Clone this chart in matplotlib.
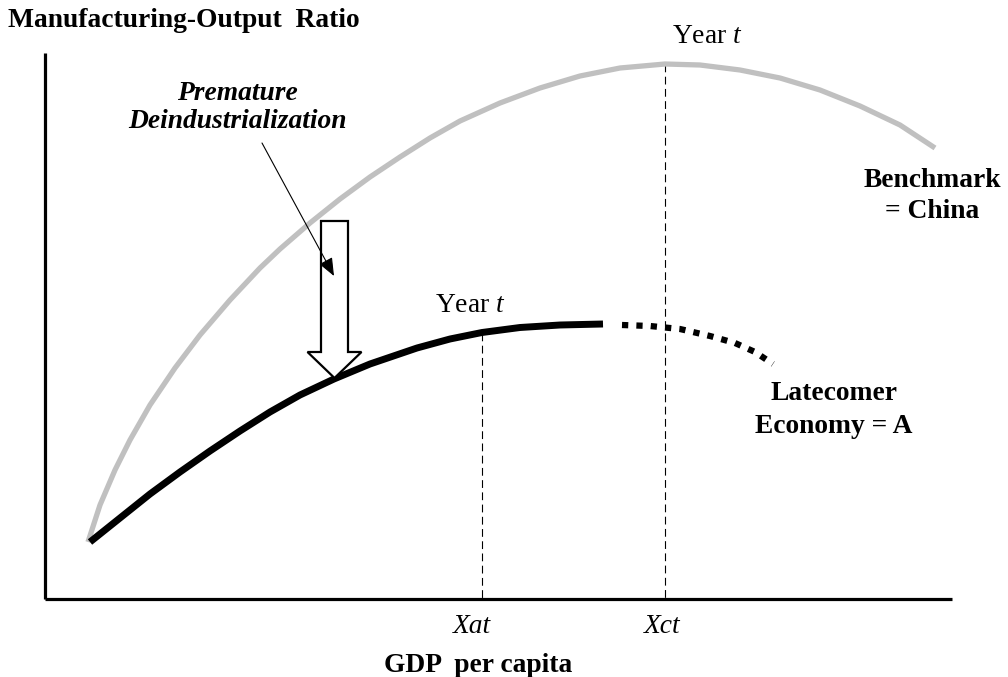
import matplotlib
matplotlib.use("Agg")
import matplotlib.pyplot as plt
from matplotlib.patches import FancyArrow
import numpy as np

# curve points (pixel coords, y grows downward)
china_x = [88, 100, 115, 130, 150, 175, 200, 230, 260, 280, 310, 340, 370, 400,
           430, 460, 500, 540, 580, 620, 665, 700, 740, 780, 820, 860, 900, 935]
china_y = [542, 505, 470, 440, 405, 368, 335, 300, 268, 249, 223, 199, 177, 157,
           138, 121, 103, 88, 76, 68, 64, 65, 70, 78, 90, 106, 125, 148]

latecomer_x = [90, 120, 150, 180, 210, 240, 270, 300, 334, 370, 417, 450, 482, 520, 560, 603]
latecomer_y = [542, 518, 494, 472, 451, 431, 412, 395, 379, 364, 348, 339, 332.5, 327.5, 325, 324]

future_x = [622, 650, 680, 710, 735, 755, 773]
future_y = [325, 326, 329, 336, 343, 352, 364]

x_at = 482
x_ct = 665
axis_origin = (45, 599)
axis_x_end = 952
axis_y_top = 53

plt.rcParams['font.family'] = 'Liberation Serif'
plt.rcParams['mathtext.fontset'] = 'custom'
plt.rcParams['mathtext.rm'] = 'Liberation Serif'
plt.rcParams['mathtext.it'] = 'Liberation Serif:italic'

fig = plt.figure(figsize=(10.08, 6.77), dpi=100)
ax = fig.add_axes([0, 0, 1, 1])
ax.set_xlim(0, 1008)
ax.set_ylim(677, 0)
ax.axis('off')

# axes
ax.plot([axis_origin[0], axis_origin[0]], [axis_y_top, axis_origin[1]], color='black', lw=2.3,
        solid_capstyle='butt')
ax.plot([axis_origin[0], axis_x_end], [axis_origin[1], axis_origin[1]], color='black', lw=2.3,
        solid_capstyle='butt')

# vertical dashed markers up to their curves
top_at = np.interp(x_at, latecomer_x, latecomer_y)
top_ct = np.interp(x_ct, china_x, china_y)
for xv, yt in [(x_at, top_at), (x_ct, top_ct)]:
    ax.plot([xv, xv], [yt, axis_origin[1]], color='black', lw=0.8, dashes=(7, 4))

# curves
ax.plot(china_x, china_y, color='#c0c0c0', lw=3.8, solid_capstyle='butt', solid_joinstyle='round')
ax.plot(latecomer_x, latecomer_y, color='black', lw=5, solid_capstyle='butt', solid_joinstyle='round')
ax.plot(future_x, future_y, color='black', lw=4.5, dashes=(1, 1.3), dash_capstyle='butt')

# hollow block arrow
ax.add_patch(FancyArrow(334.5, 221, 0, 157, width=27, head_width=54, head_length=26,
                        length_includes_head=True, fc='white', ec='black', lw=1.6, zorder=3))

# thin pointer arrow
ax.annotate('', xy=(334, 276), xytext=(262, 143),
            arrowprops=dict(arrowstyle='-|>,head_length=1.1,head_width=0.45', color='black',
                            lw=0.8, shrinkA=0, shrinkB=0), zorder=4)

fs = 19.8
ax.text(8, 27, 'Manufacturing-Output  Ratio', fontsize=fs, fontweight='bold', ha='left', va='baseline')
ax.text(237, 100, 'Premature', fontsize=fs, fontweight='bold', style='italic', ha='center', va='baseline')
ax.text(237, 128, 'Deindustrialization', fontsize=fs, fontweight='bold', style='italic', ha='center', va='baseline')
ax.text(707, 43, r'Year $\it{t}$', fontsize=fs, ha='center', va='baseline')
ax.text(470, 312, r'Year $\it{t}$', fontsize=fs, ha='center', va='baseline')
ax.text(932, 187, 'Benchmark', fontsize=fs, fontweight='bold', ha='center', va='baseline')
ax.text(932, 218, '= China', fontsize=fs, fontweight='bold', ha='center', va='baseline')
ax.text(834, 400, 'Latecomer', fontsize=fs, fontweight='bold', ha='center', va='baseline')
ax.text(834, 433, 'Economy = A', fontsize=fs, fontweight='bold', ha='center', va='baseline')
ax.text(472, 633, 'Xat', fontsize=fs, style='italic', ha='center', va='baseline')
ax.text(662, 633, 'Xct', fontsize=fs, style='italic', ha='center', va='baseline')
ax.text(478, 672, 'GDP  per capita', fontsize=fs, fontweight='bold', ha='center', va='baseline')

fig.savefig('out.png', dpi=100)
